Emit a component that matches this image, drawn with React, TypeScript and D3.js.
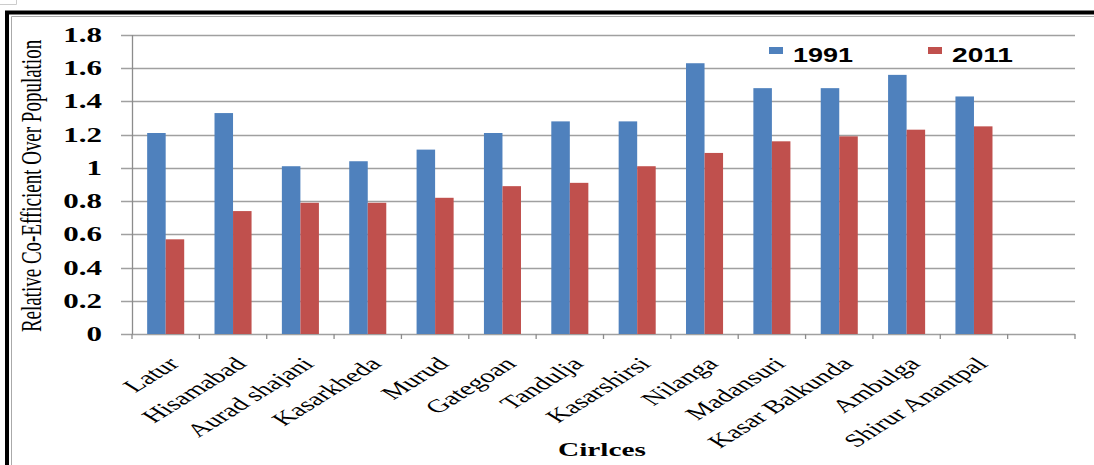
import * as d3 from "d3";

const categories = [
  "Latur",
  "Hisamabad",
  "Aurad shajani",
  "Kasarkheda",
  "Murud",
  "Gategoan",
  "Tandulja",
  "Kasarshirsi",
  "Nilanga",
  "Madansuri",
  "Kasar Balkunda",
  "Ambulga",
  "Shirur Anantpal",
  "",
];
const series = ["1991", "2011"];
const values1991 = [1.21, 1.33, 1.01, 1.04, 1.11, 1.21, 1.28, 1.28, 1.63, 1.48, 1.48, 1.56, 1.43];
const values2011 = [0.57, 0.74, 0.79, 0.79, 0.82, 0.89, 0.91, 1.01, 1.09, 1.16, 1.19, 1.23, 1.25];
const yTicks = [0, 0.2, 0.4, 0.6, 0.8, 1, 1.2, 1.4, 1.6, 1.8];
const colors = ["#4F81BD", "#C0504D"];

const W = 1094;
const H = 465;
const serif = "'Liberation Serif', 'Times New Roman', serif";
const sans = "'Liberation Sans', Arial, sans-serif";

export default function App() {
  const left = 132;
  const right = 1075;
  const top = 35;
  const bottom = 334;

  const x0 = d3
    .scaleBand<number>()
    .domain(d3.range(categories.length))
    .range([left, right])
    .paddingInner(0.45)
    .paddingOuter(0.225);
  const x1 = d3.scaleBand<string>().domain(series).range([0, x0.bandwidth()]);
  const y = d3.scaleLinear().domain([0, 1.8]).range([bottom, top]);
  const step = x0.step();
  const center = (i: number) => left + step * (i + 0.5);

  const data = [values1991, values2011];
  const legendX = [769, 928];
  const legendW = [60, 61];

  return (
    <svg
      width={W}
      height={H}
      style={{ position: "absolute", left: 0, top: 0, background: "#fff" }}
    >
      {/* frame */}
      <path d="M0,4.5H16.5V0" fill="none" stroke="#ccc" />
      <path d={`M7,${H + 5}V12.5H${W + 5}`} fill="none" stroke="#000" strokeWidth={4} />
      <path d={`M11.5,${H + 5}V16.5H${W + 5}`} fill="none" stroke="#aaa" strokeWidth={1} />

      {/* gridlines + y ticks */}
      {yTicks.map((t) => (
        <line
          key={t}
          x1={121}
          x2={right}
          y1={Math.round(y(t)) + 0.5}
          y2={Math.round(y(t)) + 0.5}
          stroke="#a0a0a0"
          strokeWidth={1.3}
        />
      ))}
      <line x1={left + 0.5} x2={left + 0.5} y1={top} y2={bottom} stroke="#8c8c8c" strokeWidth={1.3} />
      {d3.range(categories.length + 1).map((i) => (
        <line
          key={i}
          x1={left + step * i}
          x2={left + step * i}
          y1={bottom}
          y2={bottom + 5}
          stroke="#8c8c8c"
          strokeWidth={1.3}
        />
      ))}

      {/* bars */}
      {data.map((vals, s) =>
        vals.map((v, i) => (
          <rect
            key={`${s}-${i}`}
            x={(x0(i) ?? 0) + (x1(series[s]) ?? 0)}
            y={y(v)}
            width={x1.bandwidth()}
            height={y(0) - y(v)}
            fill={colors[s]}
          />
        ))
      )}

      {/* y tick labels */}
      {yTicks.map((t) => (
        <text
          key={t}
          transform={`translate(102,${y(t) + 7}) scale(1.55,1)`}
          textAnchor="end"
          fontFamily={serif}
          fontWeight="bold"
          fontSize={20}
          fill="#000"
        >
          {String(t)}
        </text>
      ))}

      {/* x labels */}
      {categories.map((c, i) =>
        c ? (
          <text
            key={c}
            transform={`translate(${center(i) + 15},365) scale(1.6,1) rotate(-45)`}
            textAnchor="end"
            fontFamily={serif}
            fontSize={18.5}
            fill="#000"
          >
            {c}
          </text>
        ) : null
      )}

      {/* axis titles */}
      <text
        transform="translate(41,186) scale(1.6,1) rotate(-90)"
        textAnchor="middle"
        fontFamily={serif}
        fontSize={19}
        fill="#000"
      >
        Relative Co-Efficient Over Population
      </text>
      <text
        x={602}
        y={456}
        textAnchor="middle"
        fontFamily={serif}
        fontWeight="bold"
        fontSize={18}
        textLength={88}
        lengthAdjust="spacingAndGlyphs"
        fill="#000"
      >
        Cirlces
      </text>

      {/* legend */}
      {series.map((s, k) => (
        <g key={s}>
          <rect x={legendX[k]} y={47} width={14} height={7} fill={colors[k]} />
          <text
            x={legendX[k] + 24}
            y={61.5}
            fontFamily={sans}
            fontWeight="bold"
            fontSize={20}
            textLength={legendW[k]}
            lengthAdjust="spacingAndGlyphs"
            fill="#000"
          >
            {s}
          </text>
        </g>
      ))}
    </svg>
  );
}
